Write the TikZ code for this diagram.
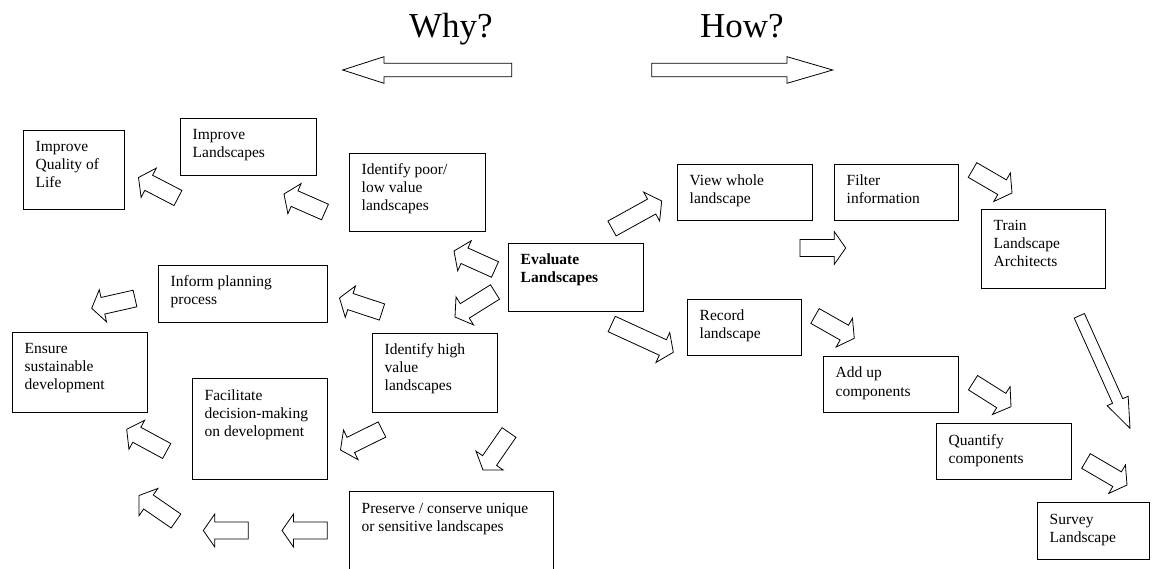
\documentclass[tikz,border=0pt]{standalone}
\usepackage{fontspec}
\setmainfont{Liberation Serif}
\usetikzlibrary{calc,fit}
\tikzset{
  boxsty/.style={draw, line width=0.8pt, inner sep=0pt, outer sep=0pt},
  txtsty/.style={inner sep=0pt, anchor=base west, font=\fontsize{15.5}{18}\selectfont},
  titlesty/.style={inner sep=0pt, anchor=base west, font=\fontsize{35}{40}\selectfont},
  blk/.style={draw, line width=0.8pt, fill=white, line join=miter},
}
\newcommand{\lns}[1]{\begin{tabular}[t]{@{}l@{}}#1\end{tabular}}
% block arrow: tail, tip, shaft half width, head half width, head length
\newcommand{\barrow}[5]{%
  \coordinate (bt) at (#1);
  \coordinate (bp) at (#2);
  \coordinate (bh) at ($(bp)!#5!(bt)$);
  \draw[blk] ($(bt)!#3!90:(bp)$) -- ($(bh)!#3!-90:(bt)$) -- ($(bh)!#4!-90:(bt)$) -- (bp)
     -- ($(bh)!#4!90:(bt)$) -- ($(bh)!#3!90:(bt)$) -- ($(bt)!#3!-90:(bp)$) -- cycle;
}
\newcommand{\sarrow}[2]{\barrow{#1}{#2}{8.5pt}{16.5pt}{11.5pt}}
\newcommand{\mkbox}[6]{%
  \node[boxsty, fit={(#2,#3) (#4,#5)}] (#1) {};
  \node[txtsty] (#1-t) at ($(#2,#3)+(12.5,22)$) {\lns{#6}};
}
\begin{document}
\begin{tikzpicture}[x=1pt,y=-1pt]
\useasboundingbox (0,0) rectangle (1152,569);
\clip (0,0) rectangle (1152,569);

% titles
\node[titlesty] (why) at (409,37.3) {Why?};
\node[titlesty] (how) at (700,37.3) {How?};
\barrow{511.7,70}{342.7,70}{6.7pt}{13.3pt}{41.3pt}
\barrow{651.7,70}{832.7,70}{6.7pt}{13.3pt}{45.7pt}

% boxes
\mkbox{qol}{23}{130}{124}{209}{Improve\\Quality of\\Life}
\mkbox{impl}{180}{118}{316}{175}{Improve\\Landscapes}
\mkbox{poor}{349}{153}{485}{231}{Identify poor/\\low value\\landscapes}
\mkbox{inform}{158}{265}{327}{322}{Inform planning\\process}
\mkbox{ensure}{12}{332}{147}{412}{Ensure\\sustainable\\development}
\mkbox{facil}{192}{378}{327}{479}{Facilitate\\decision-making\\on development}
\mkbox{high}{372}{333}{497}{412}{Identify high\\value\\landscapes}
\mkbox{eval}{508}{243}{643}{311}{\textbf{Evaluate}\\\textbf{Landscapes}}
\mkbox{pres}{349}{491}{553}{590}{Preserve / conserve unique\\or sensitive landscapes}
\mkbox{view}{677}{164}{812}{220}{View whole\\landscape}
\mkbox{filter}{834}{164}{958}{220}{Filter\\information}
\mkbox{train}{981}{209}{1105}{288}{Train\\Landscape\\Architects}
\mkbox{record}{687}{299}{801}{355}{Record\\landscape}
\mkbox{addup}{823}{356}{958}{412}{Add up\\components}
\mkbox{quant}{936}{423}{1071}{479}{Quantify\\components}
\mkbox{survey}{1037}{502}{1149}{559}{Survey\\Landscape}

% block arrows (why side)
\sarrow{178,198}{138.5,177.5}
\sarrow{325,212}{284,194}
\sarrow{495,269.5}{454,251}
\sarrow{495,292}{455,317}
\sarrow{382,312}{339.5,298}
\sarrow{135,298.5}{91.7,308.3}
\sarrow{166.7,451}{126.7,429.3}
\sarrow{382,429.5}{340.5,450}
\sarrow{509,432.5}{483,470}
\sarrow{176,521}{139,495.5}
\sarrow{248.3,530.5}{203.3,530.5}
\sarrow{327.3,530.5}{282,530.5}

% block arrows (how side)
\sarrow{612,228.5}{661.7,201}
\sarrow{611.7,324}{673.3,352.3}
\sarrow{800,248}{845.7,248}
\sarrow{972.5,170}{1012,193}
\sarrow{815,316}{854.3,338.3}
\sarrow{973,382.7}{1011,406.7}
\sarrow{1086,461}{1127,485}
\barrow{1079.3,315.8}{1130,428.3}{5.6pt}{11.5pt}{30pt}
\end{tikzpicture}
\end{document}
